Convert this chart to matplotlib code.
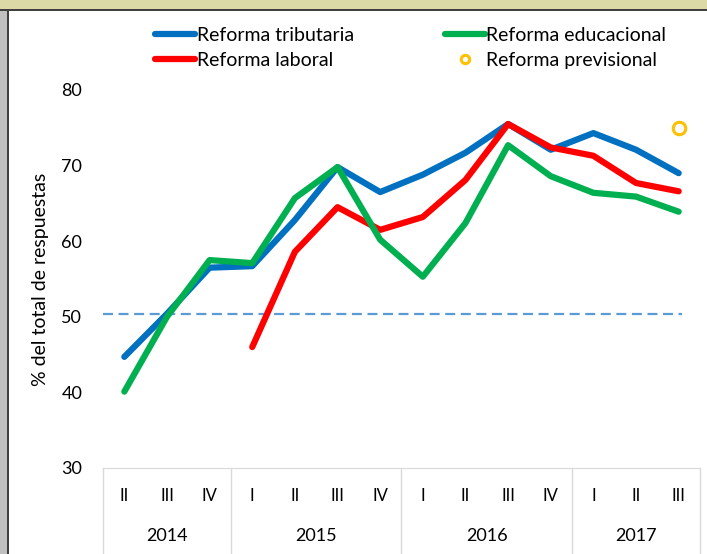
import matplotlib.pyplot as plt
from matplotlib.lines import Line2D
from matplotlib.patches import Rectangle

quarters = ["II", "III", "IV", "I", "II", "III", "IV", "I", "II", "III", "IV", "I", "II", "III"]
years = ["2014", "2015", "2016", "2017"]
year_counts = [3, 4, 4, 3]

tributaria = [44.7, 50.4, 56.5, 56.7, 62.8, 69.8, 66.5, 68.8, 71.7, 75.5, 72.1, 74.3, 72.1, 69.0]
educacional = [40.1, 50.0, 57.5, 57.1, 65.7, 69.8, 60.2, 55.3, 62.4, 72.7, 68.6, 66.4, 65.9, 63.9]
laboral = [None, None, None, 46.0, 58.6, 64.5, 61.5, 63.2, 68.1, 75.5, 72.4, 71.3, 67.7, 66.6]
previsional_x = 13
previsional = 75.0
umbral = 50.4

plt.rcParams["font.family"] = ["Lato", "DejaVu Sans"]

fig = plt.figure(figsize=(7.07, 5.54), dpi=100)
ax = fig.add_axes([103 / 707, 86 / 554, 597 / 707, 378 / 554])

x = list(range(len(quarters)))
x_lab = [i for i, v in enumerate(laboral) if v is not None]
y_lab = [v for v in laboral if v is not None]

ax.axhline(umbral, xmin=0, xmax=0.97, color="#5B9BD5", linewidth=1.6,
           linestyle=(0, (4.5, 2.5)))
ax.plot(x, tributaria, color="#0070C0", linewidth=4.5, solid_capstyle="round")
ax.plot(x_lab, y_lab, color="#FF0000", linewidth=4.5, solid_capstyle="round")
ax.plot(x, educacional, color="#00B050", linewidth=4.5, solid_capstyle="round")
ax.plot([previsional_x], [previsional], linestyle="none", marker="o", markersize=9,
        markerfacecolor="white", markeredgecolor="#FFC000", markeredgewidth=2.2)

ax.set_xlim(-0.5, 13.5)
ax.set_ylim(30, 80)
ax.set_yticks([30, 40, 50, 60, 70, 80])
ax.tick_params(axis="y", length=0, labelsize=13, pad=15)
ax.set_xticks([])
for side in ["left", "right", "top"]:
    ax.spines[side].set_visible(False)
ax.spines["bottom"].set_color("#D9D9D9")
ax.set_ylabel("% del total de respuestas", fontsize=14, labelpad=9)

# category axis with groups
trans = ax.get_xaxis_transform()
for i, q in enumerate(quarters):
    ax.text(i, -0.074, q, transform=trans, ha="center", va="center", fontsize=12)
start = 0
bounds = [-0.5]
for yr, n in zip(years, year_counts):
    ax.text(start + (n - 1) / 2, -0.18, yr, transform=trans, ha="center",
            va="center", fontsize=13)
    start += n
    bounds.append(start - 0.5)
for b in bounds:
    ax.add_line(Line2D([b, b], [0, -0.25], transform=trans, color="#D9D9D9",
                       linewidth=1, clip_on=False))

handles = [
    Line2D([], [], color="#0070C0", linewidth=4.5, solid_capstyle="round"),
    Line2D([], [], color="#FF0000", linewidth=4.5, solid_capstyle="round"),
    Line2D([], [], color="#00B050", linewidth=4.5, solid_capstyle="round"),
    Line2D([], [], linestyle="none", marker="o", markersize=6,
           markerfacecolor="white", markeredgecolor="#FFC000", markeredgewidth=2.2),
]
labels = ["Reforma tributaria", "Reforma laboral", "Reforma educacional", "Reforma previsional"]
fig.legend(handles, labels, ncol=2, loc="center", bbox_to_anchor=(0.581, 0.914),
           frameon=False, fontsize=14, handlelength=2.05, handletextpad=0.08,
           columnspacing=4.7, labelspacing=0.4)

# frame bands
fig.patches.append(Rectangle((0, 545 / 554), 1, 9 / 554, transform=fig.transFigure,
                             facecolor="#DCD9A6", edgecolor="none"))
fig.patches.append(Rectangle((0, 543 / 554), 1, 2 / 554, transform=fig.transFigure,
                             facecolor="#404040", edgecolor="none"))
fig.patches.append(Rectangle((0, 0), 7 / 707, 543 / 554, transform=fig.transFigure,
                             facecolor="#C0C0C0", edgecolor="none"))
fig.patches.append(Rectangle((7 / 707, 0), 2 / 707, 545 / 554, transform=fig.transFigure,
                             facecolor="#404040", edgecolor="none"))

fig.savefig("out.png", dpi=100)
